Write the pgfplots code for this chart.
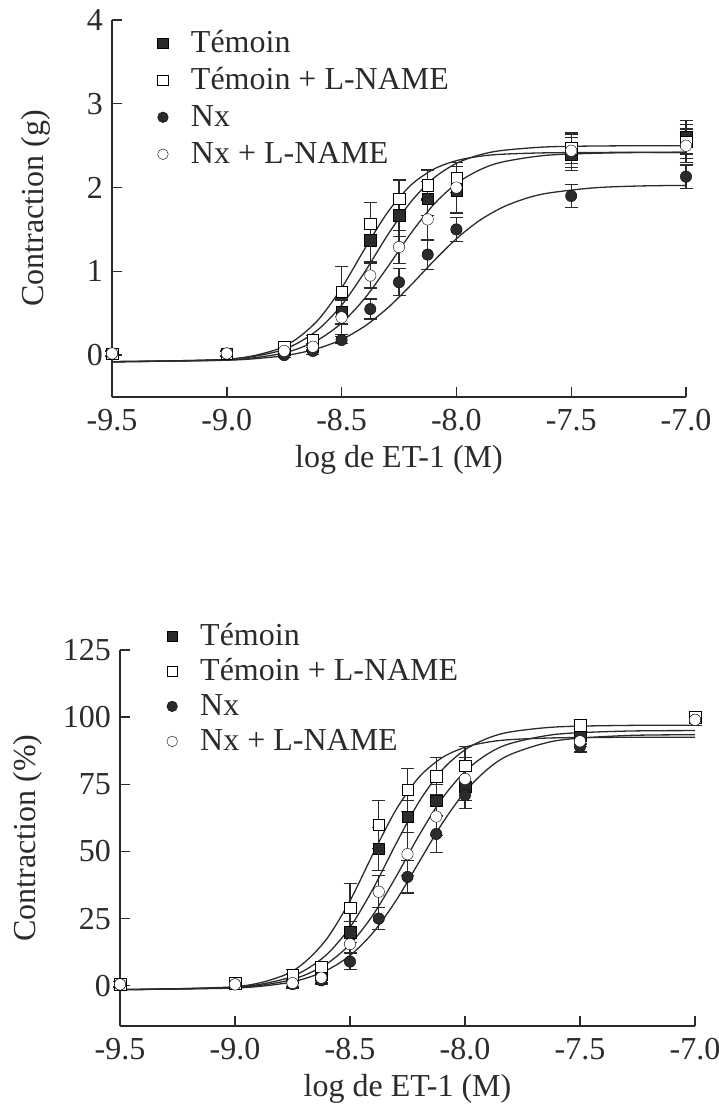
\documentclass[border=0pt]{standalone}
\usepackage{fontspec}
\setmainfont{Liberation Serif}
\usepackage{pgfplots}
\pgfplotsset{compat=1.18}
\definecolor{ink}{HTML}{2B2B2B}
\newcommand{\bigfont}{\fontsize{32bp}{38bp}\selectfont}

\pgfplotsset{
  panel/.style={
    scale only axis, clip=false,
    axis lines=left, axis line style={-, line width=1.6bp, ink},
    xmin=-9.5, xmax=-7.0,
    xtick={-9.5,-9.0,-8.5,-8.0,-7.5,-7.0},
    xticklabels={-9.5,-9.0,-8.5,-8.0,-7.5,-7.0},
    tick align=inside, major tick length=10bp,
    tick style={line width=1.4bp, ink},
    tick label style={font=\bigfont, text=ink},
    xticklabel style={anchor=center, yshift=-23bp},
    yticklabel style={anchor=east, inner sep=0pt, xshift=-9bp},
    label style={font=\bigfont, text=ink},
    xlabel style={at={(axis description cs:0.5,-0.168)}, anchor=center},
    legend cell align=left,
    legend style={draw=none, fill=none, anchor=north west, inner sep=0pt,
      font=\bigfont, text=ink,
      nodes={inner sep=1bp, text height=22bp, text depth=6bp}},
  },
  fit/.style={smooth, no marks, line width=1.3bp, ink, forget plot},
  dat/.style={only marks, mark size=5.7bp,
    mark options={line width=1.3bp, draw=ink},
    error bars/.cd, y dir=both, y explicit,
    error bar style={line width=1.3bp, ink},
    error mark options={rotate=90, line width=1.3bp, ink, mark size=6.5bp},
    /pgfplots/.cd,
    legend image code/.code={
      \path[draw=none, fill=none] (0bp,1bp) -- (33bp,1bp);
      \draw[##1, only marks, mark size=5.3bp] plot coordinates {(6bp,1bp)};}},
  temoin/.style={dat, mark=square*, mark options={fill=ink}},
  temoinL/.style={dat, mark=square*, mark options={fill=white}},
  nx/.style={dat, mark=*, mark options={fill=ink}},
  nxL/.style={dat, mark=*, mark options={fill=white}},
}

\begin{document}
\begin{tikzpicture}
\path[use as bounding box] (0,0) rectangle (719bp,-1107bp);

% ---- top panel: contraction in g
\begin{axis}[panel,
  at={(112bp,-397bp)}, anchor=south west,
  width=574bp, height=377bp,
  ymin=-0.5, ymax=4,
  ytick={0,1,2,3,4}, yticklabels={0,1,2,3,4},
  xlabel={log de ET-1 (M)}, ylabel={Contraction (g)},
  ylabel style={at={(axis description cs:-0.132,0.5)}, anchor=center},
  legend style={at={(axis description cs:0.078,0.976)}, row sep=7bp},
]
\addplot[fit] coordinates {(-9.5,-0.079) (-9.0,-0.05) (-8.8,0.052) (-8.7,0.186) (-8.6,0.427) (-8.5,0.801) (-8.4,1.265) (-8.3,1.703) (-8.2,2.025) (-8.1,2.218) (-8.0,2.321) (-7.9,2.373) (-7.8,2.398) (-7.6,2.415) (-7.3,2.42) (-7.0,2.42)};
\addplot[fit] coordinates {(-9.5,-0.079) (-9.0,-0.051) (-8.8,0.030) (-8.7,0.131) (-8.6,0.310) (-8.5,0.596) (-8.4,0.989) (-8.3,1.431) (-8.2,1.824) (-8.1,2.110) (-8.0,2.289) (-7.9,2.389) (-7.8,2.443) (-7.6,2.486) (-7.3,2.498) (-7.0,2.5)};
\addplot[fit] coordinates {(-9.5,-0.079) (-9.0,-0.058) (-8.8,0.0) (-8.7,0.067) (-8.6,0.186) (-8.5,0.383) (-8.4,0.675) (-8.3,1.050) (-8.2,1.447) (-8.1,1.794) (-8.0,2.047) (-7.9,2.209) (-7.8,2.305) (-7.6,2.387) (-7.3,2.415) (-7.0,2.42)};
\addplot[fit] coordinates {(-9.5,-0.079) (-9.0,-0.061) (-8.8,-0.023) (-8.7,0.016) (-8.6,0.082) (-8.5,0.186) (-8.4,0.344) (-8.3,0.561) (-8.2,0.830) (-8.1,1.120) (-8.0,1.389) (-7.9,1.606) (-7.8,1.763) (-7.7,1.868) (-7.6,1.934) (-7.4,1.997) (-7.2,2.019) (-7.0,2.026)};

\addplot[temoin] table[x=x, y=y, y error=e] {
x y e
-9.5 0.02 0.03
-9.0 0.02 0.03
-8.75 0.07 0.03
-8.625 0.10 0.04
-8.5 0.52 0.15
-8.375 1.37 0.25
-8.25 1.67 0.25
-8.125 1.87 0.20
-8.0 1.97 0.28
-7.5 2.40 0.20
-7.0 2.60 0.20
};
\addlegendentry{Témoin}
\addplot[temoinL] table[x=x, y=y, y error=e] {
x y e
-9.5 0.02 0.03
-9.0 0.02 0.03
-8.75 0.10 0.04
-8.625 0.18 0.05
-8.5 0.76 0.30
-8.375 1.57 0.25
-8.25 1.87 0.22
-8.125 2.03 0.18
-8.0 2.12 0.18
-7.5 2.47 0.18
-7.0 2.55 0.20
};
\addlegendentry{Témoin + L-NAME}
\addplot[nx] table[x=x, y=y, y error=e] {
x y e
-9.5 0.02 0.03
-9.0 0.02 0.03
-8.75 0.00 0.03
-8.625 0.05 0.04
-8.5 0.18 0.04
-8.375 0.55 0.12
-8.25 0.87 0.16
-8.125 1.20 0.18
-8.0 1.50 0.14
-7.5 1.90 0.14
-7.0 2.13 0.14
};
\addlegendentry{Nx}
\addplot[nxL] table[x=x, y=y, y error=e] {
x y e
-9.5 0.02 0.03
-9.0 0.02 0.03
-8.75 0.05 0.03
-8.625 0.10 0.04
-8.5 0.45 0.20
-8.375 0.95 0.15
-8.25 1.29 0.20
-8.125 1.62 0.25
-8.0 2.00 0.30
-7.5 2.44 0.20
-7.0 2.50 0.20
};
\addlegendentry{Nx + L-NAME}
\end{axis}

% ---- bottom panel: contraction in %
\begin{axis}[panel,
  at={(120bp,-1026bp)}, anchor=south west,
  width=575bp, height=376bp,
  ymin=-15, ymax=125,
  ytick={0,25,50,75,100,125}, yticklabels={0,25,50,75,100,125},
  xlabel={log de ET-1 (M)}, ylabel={Contraction (\%)},
  ylabel style={at={(axis description cs:-0.16,0.5)}, anchor=center},
  legend style={at={(axis description cs:0.080,1.074)}, row sep=5bp},
]
\addplot[fit] coordinates {(-9.5,-1.47) (-9.0,-0.37) (-8.8,3.46) (-8.7,8.51) (-8.6,17.58) (-8.5,31.64) (-8.4,49.07) (-8.3,65.52) (-8.2,77.65) (-8.1,84.89) (-8.0,88.79) (-7.9,90.71) (-7.8,91.65) (-7.6,92.31) (-7.3,92.5) (-7.0,92.5)};
\addplot[fit] coordinates {(-9.5,-1.47) (-9.0,-0.54) (-8.8,2.18) (-8.7,5.59) (-8.6,11.71) (-8.5,21.76) (-8.4,36.07) (-8.3,52.83) (-8.2,68.48) (-8.1,80.29) (-8.0,87.86) (-7.9,92.19) (-7.8,94.54) (-7.6,96.37) (-7.3,96.92) (-7.0,97.0)};
\addplot[fit] coordinates {(-9.5,-1.47) (-9.0,-0.69) (-8.8,1.38) (-8.7,3.85) (-8.6,8.20) (-8.5,15.44) (-8.4,26.34) (-8.3,40.56) (-8.2,55.97) (-8.1,69.64) (-8.0,79.79) (-7.9,86.37) (-7.8,90.27) (-7.6,93.65) (-7.3,94.81) (-7.0,95.0)};
\addplot[fit] coordinates {(-9.5,-1.47) (-9.0,-0.85) (-8.8,0.72) (-8.7,2.57) (-8.6,5.80) (-8.5,11.24) (-8.4,19.77) (-8.3,31.69) (-8.2,46.0) (-8.1,60.31) (-8.0,72.23) (-7.9,80.76) (-7.8,86.20) (-7.6,91.28) (-7.3,93.15) (-7.0,93.44)};

\addplot[temoin] table[x=x, y=y, y error=e] {
x y e
-9.5 0.5 1
-9.0 1 1
-8.75 3 1.5
-8.625 4 2
-8.5 20 4
-8.375 51 8
-8.25 63 6
-8.125 69 6
-8.0 74 8
-7.5 93 3
-7.0 100 2
};
\addlegendentry{Témoin}
\addplot[temoinL] table[x=x, y=y, y error=e] {
x y e
-9.5 0.5 1
-9.0 1 1
-8.75 4 2
-8.625 7 2
-8.5 29 9
-8.375 60 9
-8.25 73 8
-8.125 78 7
-8.0 82 7
-7.5 97 2
-7.0 100 2
};
\addlegendentry{Témoin + L-NAME}
\addplot[nx] table[x=x, y=y, y error=e] {
x y e
-9.5 0.5 1
-9.0 0.5 1
-8.75 0.6 1.5
-8.625 2 1.5
-8.5 9 3
-8.375 25 4
-8.25 40.5 6
-8.125 56.5 7
-8.0 71 5
-7.5 89 2
-7.0 99 2
};
\addlegendentry{Nx}
\addplot[nxL] table[x=x, y=y, y error=e] {
x y e
-9.5 0.5 1
-9.0 0.5 1
-8.75 1 1.5
-8.625 3 2
-8.5 15.5 3
-8.375 35 6
-8.25 49 8
-8.125 63 7
-8.0 77 8
-7.5 91 2
-7.0 99 2
};
\addlegendentry{Nx + L-NAME}
\end{axis}
\end{tikzpicture}
\end{document}
